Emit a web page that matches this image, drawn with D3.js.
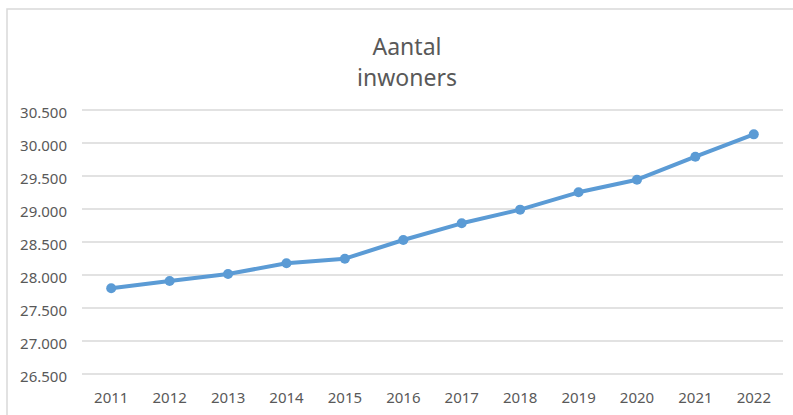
<!DOCTYPE html>
<html>
<head>
<meta charset="utf-8">
<script src="https://cdn.jsdelivr.net/npm/d3@7"></script>
<style>
  body { margin: 0; background: #fff; }
  text { font-family: "Noto Sans", "Liberation Sans", sans-serif; fill: #595959; }
</style>
</head>
<body>
<div id="chart"></div>
<script>
// data
var years = ["2011", "2012", "2013", "2014", "2015", "2016", "2017", "2018", "2019", "2020", "2021", "2022"];
var inwoners = [27800, 27910, 28015, 28177, 28247, 28530, 28783, 28990, 29253, 29444, 29793, 30131];
var yTicks = [26500, 27000, 27500, 28000, 28500, 29000, 29500, 30000, 30500];
var titleLines = ["Aantal", "inwoners"];

var width = 793, height = 415;
var margin = { top: 110, right: 10, bottom: 41, left: 82 };
var innerW = 783 - margin.left;
var innerH = 374 - margin.top;

var svg = d3.select("#chart")
  .append("svg")
  .attr("width", width)
  .attr("height", height);

// chart frame
svg.append("rect")
  .attr("x", 7)
  .attr("y", 9)
  .attr("width", 800)
  .attr("height", 420)
  .attr("fill", "none")
  .attr("stroke", "#d9d9d9")
  .attr("stroke-width", 1.5);

// title
svg.append("text")
  .attr("x", 407)
  .attr("text-anchor", "middle")
  .style("font-size", "23px")
  .selectAll("tspan")
  .data(titleLines)
  .enter()
  .append("tspan")
  .attr("x", 407)
  .attr("y", (d, i) => 55 + i * 31)
  .text(d => d);

var g = svg.append("g")
  .attr("transform", `translate(${margin.left}, ${margin.top})`);

var x = d3.scaleBand()
  .domain(years)
  .range([0, innerW]);

var y = d3.scaleLinear()
  .domain([26500, 30500])
  .range([innerH, 0]);

var fmt = d => d3.format(",")(d).replace(",", ".");

// gridlines
g.append("g")
  .selectAll("line")
  .data(yTicks)
  .enter()
  .append("line")
  .attr("x1", 0)
  .attr("x2", innerW)
  .attr("y1", d => y(d))
  .attr("y2", d => y(d))
  .attr("stroke", "#d9d9d9")
  .attr("stroke-width", 1.3);

// y labels
var leftAxis = d3.axisLeft(y).tickValues(yTicks).tickFormat(fmt).tickSize(0).tickPadding(15);
var ya = g.append("g").call(leftAxis);
ya.select(".domain").remove();
ya.selectAll("text")
  .attr("dy", "0.68em")
  .attr("y", -3)
  .style("font-size", "15px")
  .style("font-family", null)
  .attr("fill", "#595959");

// x labels
var bottomAxis = d3.axisBottom(x).tickSize(0).tickPadding(18);
var xa = g.append("g")
  .attr("transform", `translate(0, ${innerH})`)
  .call(bottomAxis);
xa.select(".domain").remove();
xa.selectAll("text")
  .style("font-size", "15px")
  .style("font-family", null)
  .attr("fill", "#595959");

// line
var line = d3.line()
  .x((d, i) => x(years[i]) + x.bandwidth() / 2)
  .y(d => y(d));

g.append("path")
  .datum(inwoners)
  .attr("d", line)
  .attr("fill", "none")
  .attr("stroke", "#5b9bd5")
  .attr("stroke-width", 4)
  .attr("stroke-linejoin", "round");

g.selectAll("circle")
  .data(inwoners)
  .enter()
  .append("circle")
  .attr("cx", (d, i) => x(years[i]) + x.bandwidth() / 2)
  .attr("cy", d => y(d))
  .attr("r", 5)
  .attr("fill", "#5b9bd5");
</script>
</body>
</html>
